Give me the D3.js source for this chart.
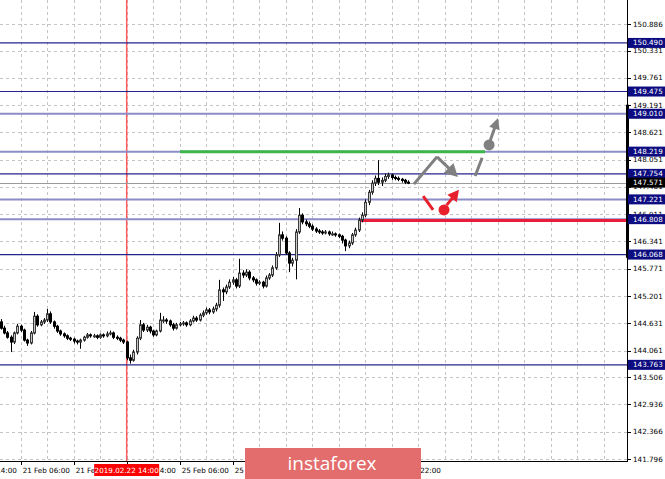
<!DOCTYPE html>
<html><head><meta charset="utf-8">
<script src="https://cdn.jsdelivr.net/npm/d3@7"></script>
<style>body{margin:0;background:#fff;} svg{display:block;}</style>
</head><body><svg id="c" width="665" height="479"></svg>
<script>
// ---- data (H1 bars) ----
const opens  = [144.66,144.53,144.43,144.34,144.24,144.43,144.57,144.49,144.28,144.22,144.43,144.78,144.60,144.66,144.70,144.83,144.66,144.57,144.47,144.41,144.37,144.32,144.30,144.26,144.24,144.28,144.34,144.39,144.37,144.37,144.34,144.39,144.37,144.41,144.43,144.34,144.32,144.28,144.24,143.91,143.86,144.03,144.32,144.60,144.49,144.55,144.47,144.39,144.47,144.70,144.70,144.68,144.60,144.53,144.60,144.62,144.64,144.60,144.68,144.74,144.70,144.80,144.85,144.91,144.87,144.93,145.01,145.33,145.29,145.39,145.49,145.54,145.41,145.68,145.64,145.70,145.58,145.54,145.47,145.49,145.41,145.58,145.64,145.79,146.06,146.48,146.41,146.10,145.89,145.95,146.54,146.89,146.75,146.71,146.66,146.60,146.56,146.54,146.52,146.54,146.50,146.50,146.48,146.45,146.37,146.25,146.31,146.48,146.58,146.79,146.89,147.16,147.37,147.56,147.66,147.58,147.62,147.70,147.73,147.68,147.66,147.64,147.62,147.58];
const highs  = [144.72,144.58,144.47,144.38,144.46,144.62,144.60,144.52,144.31,144.47,144.87,144.82,144.70,144.74,144.93,144.88,144.69,144.60,144.50,144.44,144.40,144.35,144.33,144.29,144.31,144.37,144.43,144.42,144.41,144.40,144.42,144.42,144.46,144.48,144.46,144.38,144.35,144.31,144.27,143.98,144.08,144.36,144.70,144.64,144.60,144.58,144.50,144.50,144.85,144.78,144.74,144.71,144.64,144.64,144.66,144.68,144.67,144.72,144.79,144.78,144.84,144.90,144.96,144.95,144.98,145.06,145.54,145.38,145.44,145.55,145.60,145.58,145.98,145.74,145.76,145.74,145.62,145.57,145.53,145.52,145.63,145.68,145.84,146.12,146.73,146.55,146.45,146.14,146.00,146.60,147.04,146.93,146.80,146.76,146.70,146.64,146.60,146.58,146.58,146.57,146.55,146.53,146.51,146.48,146.40,146.36,146.52,146.63,146.84,146.95,147.22,147.42,147.62,147.72,148.04,147.68,147.76,147.78,147.76,147.72,147.70,147.67,147.65,147.62];
const lows   = [144.50,144.40,144.31,144.03,144.20,144.40,144.45,144.25,144.16,144.19,144.40,144.56,144.57,144.62,144.66,144.62,144.52,144.43,144.37,144.33,144.28,144.26,144.21,144.19,144.10,144.25,144.31,144.33,144.33,144.30,144.31,144.33,144.34,144.38,144.30,144.28,144.24,144.20,143.86,143.79,143.83,143.98,144.28,144.45,144.45,144.42,144.35,144.36,144.44,144.64,144.62,144.56,144.48,144.50,144.57,144.58,144.56,144.57,144.65,144.66,144.67,144.76,144.81,144.82,144.83,144.88,144.96,145.10,145.24,145.35,145.44,145.36,145.37,145.58,145.60,145.53,145.49,145.42,145.43,145.36,145.38,145.54,145.60,145.75,146.02,146.36,146.06,145.70,145.82,145.55,146.50,146.70,146.66,146.62,146.56,146.52,146.50,146.48,146.49,146.46,146.46,146.44,146.41,146.30,146.14,146.20,146.27,146.44,146.54,146.74,146.85,147.10,147.32,147.50,147.52,147.50,147.58,147.65,147.63,147.62,147.60,147.57,147.54,147.54];
const closes = [144.53,144.43,144.34,144.24,144.43,144.57,144.49,144.28,144.22,144.43,144.78,144.60,144.66,144.70,144.83,144.66,144.57,144.47,144.41,144.37,144.32,144.30,144.26,144.24,144.28,144.34,144.39,144.37,144.37,144.34,144.39,144.37,144.41,144.43,144.34,144.32,144.28,144.24,143.91,143.86,144.03,144.32,144.60,144.49,144.55,144.47,144.39,144.47,144.70,144.70,144.68,144.60,144.53,144.60,144.62,144.64,144.60,144.68,144.74,144.70,144.80,144.85,144.91,144.87,144.93,145.01,145.33,145.29,145.39,145.49,145.54,145.41,145.68,145.64,145.70,145.58,145.54,145.47,145.49,145.41,145.58,145.64,145.79,146.06,146.48,146.41,146.10,145.89,145.95,146.54,146.89,146.75,146.71,146.66,146.60,146.56,146.54,146.52,146.54,146.50,146.50,146.48,146.45,146.37,146.25,146.31,146.48,146.58,146.79,146.89,147.16,147.37,147.56,147.66,147.58,147.62,147.70,147.73,147.68,147.66,147.64,147.62,147.58,147.57];

const priceTicks = [150.886,150.331,149.761,149.191,148.621,148.051,147.481,146.911,146.341,145.771,145.201,144.631,144.061,143.506,142.936,142.366,141.796];
const timeLabelBars = [-10,6,22,38,54,70,86,102,118];
const timeLabels = ["20 Feb 14:00","21 Feb 06:00","21 Feb 22:00","22 Feb 14:00","25 Feb 06:00","25 Feb 22:00","26 Feb 14:00","27 Feb 06:00","27 Feb 22:00"];
const levelValues = [150.490,149.475,149.010,148.219,147.754,147.221,146.808,146.068,143.763];
const levelKinds  = ["dark","dark","light","light","dark","light","light","dark","dark"];
const lastPrice = 147.571;
const markerBar = 38;
const markerLabel = "2019.02.22 14:00";
// annotation segments: [bar, price]
const greenLine = [[54.1,148.219],[146.2,148.219]];
const redLine   = [[108.4,146.78],[189,146.78]];
const grayPath1 = [[124.7,147.54],[131.7,148.11],[138.0,147.69]];
const grayDash  = [[143.2,147.71],[145.3,148.09]];
const grayDot   = [147.4,148.36];
const grayArrow2 = [[147.6,148.42],[150.1,148.92]];
const redDash   = [[127.5,147.29],[130.5,147.00]];
const redDot    = [133.8,147.00];
const redArrow  = [[134.6,147.10],[138.3,147.42]];

// ---- scales ----
const W = 627, H = 461;
const x = d3.scaleLinear().domain([0,189]).range([0.8, 626.9]);
const y = d3.scaleLinear().domain([141.796,150.886]).range([459,24]);
const svg = d3.select("#c");
const FONT = "DejaVu Sans";

svg.append("defs").append("clipPath").attr("id","clip")
  .append("rect").attr("x",0).attr("y",0).attr("width",W).attr("height",H);
const plot = svg.append("g").attr("clip-path","url(#clip)");

// grid
plot.selectAll(".vg").data(d3.range(-2,189,8)).join("line")
  .attr("x1",d=>Math.round(x(d))+0.5).attr("x2",d=>Math.round(x(d))+0.5)
  .attr("y1",0).attr("y2",H).attr("stroke","#c4c4c4").attr("stroke-dasharray","3,3");
plot.selectAll(".hg").data(priceTicks).join("line")
  .attr("x1",0).attr("x2",W).attr("y1",d=>Math.round(y(d))+0.5).attr("y2",d=>Math.round(y(d))+0.5)
  .attr("stroke","#c4c4c4").attr("stroke-dasharray","3,3");

// red vertical marker
plot.append("line").attr("x1",x(markerBar)).attr("x2",x(markerBar)).attr("y1",0).attr("y2",H)
  .attr("stroke","#ff5c5c").attr("stroke-width",1.5);

// level lines
plot.selectAll(".lv").data(levelValues).join("line")
  .attr("x1",0).attr("x2",W)
  .attr("y1",d=>y(d)).attr("y2",d=>y(d))
  .attr("stroke",(d,i)=>levelKinds[i]==="dark"?"#24248e":"#8c8cc8")
  .attr("stroke-width",(d,i)=>levelKinds[i]==="dark"?1.2:2);
plot.append("line").attr("x1",0).attr("x2",W).attr("y1",Math.round(y(lastPrice))+0.5).attr("y2",Math.round(y(lastPrice))+0.5)
  .attr("stroke","#9a9a9a").attr("stroke-width",1);

// green / red horizontal annotation lines
const ln = d3.line().x(d=>x(d[0])).y(d=>y(d[1]));
plot.append("path").attr("d",ln(greenLine)).attr("stroke","#3db54a").attr("stroke-width",3).attr("fill","none");
plot.append("path").attr("d",ln(redLine)).attr("stroke","#e81e3c").attr("stroke-width",3).attr("fill","none");

// candles
const idx = d3.range(closes.length);
const cg = plot.append("g");
cg.selectAll(".w").data(idx).join("line")
  .attr("x1",i=>Math.round(x(i))+0.5).attr("x2",i=>Math.round(x(i))+0.5)
  .attr("y1",i=>y(highs[i])).attr("y2",i=>y(lows[i]))
  .attr("stroke","#000").attr("stroke-width",1);
cg.selectAll(".b").data(idx).join("rect")
  .attr("x",i=>Math.round(x(i))-0.5)
  .attr("width",2)
  .attr("y",i=>y(Math.max(opens[i],closes[i])))
  .attr("height",i=>Math.max(1,Math.abs(y(opens[i])-y(closes[i]))))
  .attr("fill",i=>closes[i]>=opens[i]?"#c8c8c8":"#000")
  .attr("stroke",i=>closes[i]>=opens[i]?"#3a3a3a":"#000").attr("stroke-width",1);

// arrows helper
function arrowHead(g, p0, p1, color, len, half){
  const ax=x(p0[0]), ay=y(p0[1]), bx=x(p1[0]), by=y(p1[1]);
  const dx=bx-ax, dy=by-ay, L=Math.hypot(dx,dy), ux=dx/L, uy=dy/L;
  const baseX=bx-ux*len, baseY=by-uy*len;
  g.append("path").attr("d",`M${ax},${ay}L${baseX+ux*2},${baseY+uy*2}`)
    .attr("stroke",color).attr("stroke-width",3).attr("fill","none");
  g.append("polygon").attr("points",
    `${bx},${by} ${baseX-uy*half},${baseY+ux*half} ${baseX+uy*half},${baseY-ux*half}`)
    .attr("fill",color);
}
const ag = plot.append("g");
const GRAY="#808080", RED="#e8202c";
ag.append("path").attr("d",ln(grayPath1.slice(0,2))).attr("stroke",GRAY).attr("stroke-width",3).attr("fill","none");
arrowHead(ag, grayPath1[1], grayPath1[2], GRAY, 13, 7);
ag.append("path").attr("d",ln(grayDash)).attr("stroke",GRAY).attr("stroke-width",3).attr("fill","none");
ag.append("circle").attr("cx",x(grayDot[0])).attr("cy",y(grayDot[1])).attr("r",5.5).attr("fill",GRAY);
arrowHead(ag, grayArrow2[0], grayArrow2[1], GRAY, 11, 5.5);
ag.append("path").attr("d",ln(redDash)).attr("stroke",RED).attr("stroke-width",3).attr("fill","none");
ag.append("circle").attr("cx",x(redDot[0])).attr("cy",y(redDot[1])).attr("r",5.5).attr("fill",RED);
arrowHead(ag, redArrow[0], redArrow[1], RED, 11, 6);

// right axis
svg.append("line").attr("x1",W+0.5).attr("x2",W+0.5).attr("y1",0).attr("y2",H+1).attr("stroke","#000");
svg.append("line").attr("x1",W+0.5).attr("x2",W+0.5).attr("y1",y(149.2)).attr("y2",y(146.0)).attr("stroke","#000").attr("stroke-width",3);
svg.selectAll(".rt").data(priceTicks).join("line")
  .attr("x1",W).attr("x2",W+4).attr("y1",d=>Math.round(y(d))+0.5).attr("y2",d=>Math.round(y(d))+0.5).attr("stroke","#000");
svg.selectAll(".rl").data(priceTicks).join("text")
  .attr("x",W+6).attr("y",d=>y(d)+2.5).text(d=>d.toFixed(3))
  .attr("font-family",FONT).attr("font-size",7.2).attr("fill","#000");

// level labels
const lbl = svg.selectAll(".lb").data(levelValues).join("g");
lbl.append("rect").attr("x",W+1).attr("y",d=>y(d)-5).attr("width",37).attr("height",10).attr("fill","#0c0c80");
lbl.append("text").attr("x",W+6).attr("y",d=>y(d)+2.5).text(d=>d.toFixed(3))
  .attr("font-family",FONT).attr("font-size",7.2).attr("fill","#fff");
svg.append("rect").attr("x",W+1).attr("y",y(lastPrice)-5).attr("width",37).attr("height",10).attr("fill","#000");
svg.append("text").attr("x",W+6).attr("y",y(lastPrice)+2.5).text(lastPrice.toFixed(3))
  .attr("font-family",FONT).attr("font-size",7.2).attr("fill","#fff");

// bottom axis
svg.append("line").attr("x1",0).attr("x2",W+1).attr("y1",H+0.5).attr("y2",H+0.5).attr("stroke","#000");
svg.selectAll(".bt").data(timeLabelBars).join("line")
  .attr("x1",d=>Math.round(x(d))+0.5).attr("x2",d=>Math.round(x(d))+0.5)
  .attr("y1",H).attr("y2",H+4).attr("stroke","#000");
svg.selectAll(".bl").data(timeLabelBars).join("text")
  .attr("x",d=>x(d)+2).attr("y",H+12).text((d,i)=>timeLabels[i])
  .attr("font-family",FONT).attr("font-size",7.2).attr("fill","#000");

// marker label
const mx = x(markerBar);
svg.append("rect").attr("x",mx-32.5).attr("y",H+3).attr("width",65).attr("height",12).attr("fill","#ff0000");
svg.append("text").attr("x",mx).attr("y",H+12).attr("text-anchor","middle").text(markerLabel)
  .attr("font-family",FONT).attr("font-size",7.2).attr("fill","#fff");

// instaforex banner
svg.append("rect").attr("x",245).attr("y",448).attr("width",176).attr("height",31).attr("fill","#e36d6d");
svg.append("text").attr("x",332).attr("y",470).attr("text-anchor","middle").text("instaforex")
  .attr("font-family","Open Sans").attr("font-size",19).attr("fill","#fff");
</script></body></html>
